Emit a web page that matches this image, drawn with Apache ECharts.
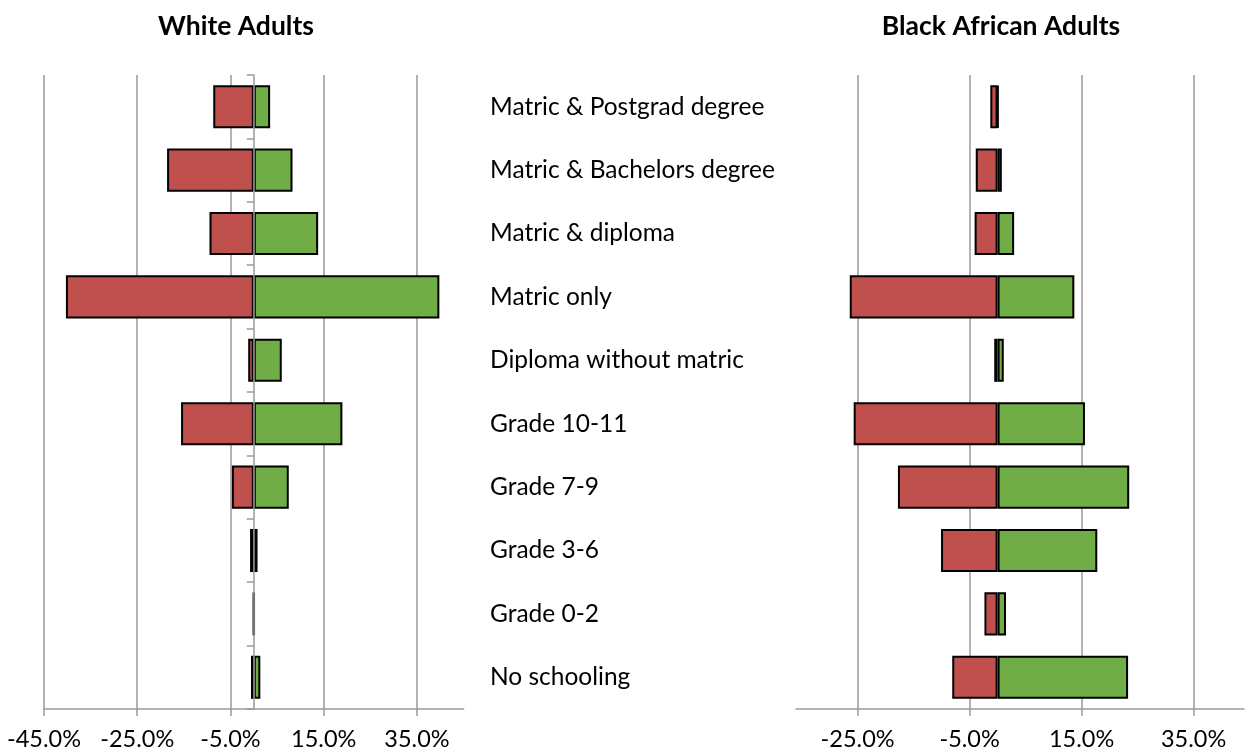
<!DOCTYPE html>
<html><head><meta charset="utf-8">
<script src="https://cdn.jsdelivr.net/npm/echarts@6/dist/echarts.min.js"></script>
<style>html,body{margin:0;padding:0;background:#fff}#c{width:1245px;height:754px}</style>
</head><body><div id="c"></div>
<script>
const categories = ['Matric & Postgrad degree','Matric & Bachelors degree','Matric & diploma','Matric only','Diploma without matric','Grade 10-11','Grade 7-9','Grade 3-6','Grade 0-2','No schooling'];
const whiteRed   = [-8.7, -18.6, -9.5, -40.3, -1.2, -15.6, -4.7, -0.8, -0.1, -0.6];
const whiteGreen = [3.5, 8.3, 13.8, 39.8, 6.0, 19.0, 7.5, 0.8, 0.1, 1.4];
const blackRed   = [-1.3, -3.9, -4.1, -26.4, -0.6, -25.7, -17.8, -10.1, -2.35, -8.1];
const blackGreen = [0.1, 0.75, 2.95, 13.7, 1.1, 15.6, 23.5, 17.8, 1.5, 23.3];
const tickValues = [-45, -25, -5, 15, 35];
const titles = ['White Adults', 'Black African Adults'];

const FONT = 'Lato, "Open Sans", sans-serif';
const GRID_C = '#9a9a9a';
const RED = '#C0504D', GREEN = '#70AD47';

function xAx(gi, min, max) {
  return {
    type: 'value', gridIndex: gi, min: min, max: max,
    axisLine: {show: true, onZero: false, lineStyle: {color: GRID_C, width: 1.5}},
    axisTick: {show: true, length: 7, customValues: tickValues, lineStyle: {color: GRID_C, width: 1.5}},
    axisLabel: {customValues: tickValues, formatter: v => v.toFixed(1) + '%', color: '#000', fontFamily: FONT, fontSize: 23.5, margin: 18},
    splitLine: {show: true, lineStyle: {color: GRID_C, width: 1.5}}
  };
}
function barSeries(data, color, xi, yi) {
  return {
    type: 'bar', xAxisIndex: xi, yAxisIndex: yi, data: data,
    barCategoryGap: '32%', barGap: '-100%',
    itemStyle: {color: color, borderColor: '#000', borderWidth: 2},
    emphasis: {disabled: true}, animation: false
  };
}
const chart = echarts.init(document.getElementById('c'));
chart.setOption({
  animation: false,
  title: [
    {text: titles[0], left: 231, top: 8, textAlign: 'center', textStyle: {fontFamily: FONT, fontWeight: 'bold', fontSize: 26.5, color: '#000'}},
    {text: titles[1], left: 996, top: 8, textAlign: 'center', textStyle: {fontFamily: FONT, fontWeight: 'bold', fontSize: 26.5, color: '#000'}}
  ],
  grid: [
    {left: 44, top: 75, width: 419.6, height: 634},
    {left: 796, top: 75, width: 448, height: 634},
    {left: 470, top: 75, width: 10, height: 634}
  ],
  xAxis: [
    xAx(0, -45, 45),
    xAx(1, -36, 44),
    {type: 'value', gridIndex: 2, show: false}
  ],
  yAxis: [
    {type: 'category', gridIndex: 0, data: categories, inverse: true, z: 5,
     axisLine: {show: true, onZero: true, lineStyle: {color: GRID_C, width: 1.5}},
     axisTick: {show: true, length: 7, lineStyle: {color: GRID_C, width: 1.5}},
     axisLabel: {show: false}, splitLine: {show: false}},
    {type: 'category', gridIndex: 1, data: categories, inverse: true,
     axisLine: {show: false}, axisTick: {show: false}, axisLabel: {show: false}, splitLine: {show: false}},
    {type: 'category', gridIndex: 2, data: categories, inverse: true, position: 'right',
     axisLine: {show: false}, axisTick: {show: false},
     axisLabel: {color: '#000', fontFamily: FONT, fontSize: 24.5, margin: 10, align: 'left'}}
  ],
  series: [
    barSeries(whiteRed, RED, 0, 0),
    barSeries(whiteGreen, GREEN, 0, 0),
    barSeries(blackRed, RED, 1, 1),
    barSeries(blackGreen, GREEN, 1, 1)
  ]
});
</script></body></html>
